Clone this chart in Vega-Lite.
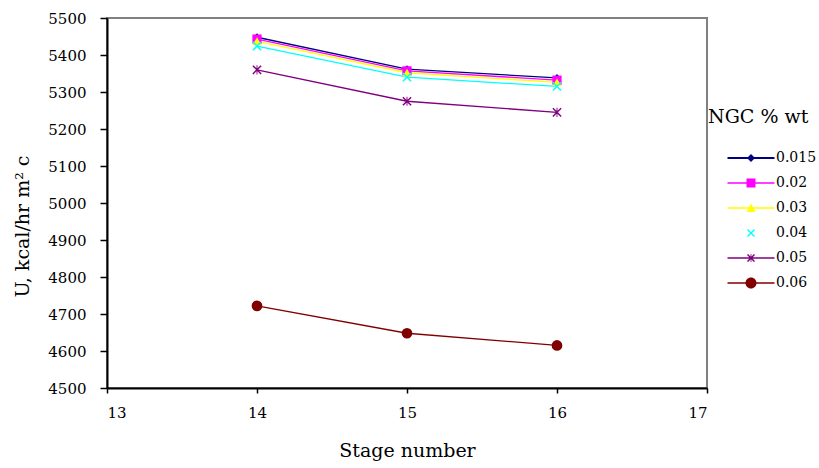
{
  "$schema": "https://vega.github.io/schema/vega-lite/v6.json",
  "width": 600,
  "height": 370,
  "autosize": {"type": "none"},
  "padding": {"left": 107, "top": 18, "right": 112, "bottom": 80},
  "background": "white",
  "config": {
    "view": {"stroke": "#808080", "strokeWidth": 2},
    "font": "DejaVu Serif",
    "axis": {
      "labelFont": "DejaVu Serif",
      "titleFont": "DejaVu Serif",
      "labelFontSize": 15,
      "titleFontSize": 19,
      "titleFontWeight": "normal",
      "labelColor": "black",
      "titleColor": "black",
      "domainColor": "black",
      "domainWidth": 2,
      "tickColor": "black",
      "tickWidth": 1.5,
      "grid": false
    },
    "legend": {
      "labelFont": "DejaVu Serif",
      "titleFont": "DejaVu Serif"
    }
  },
  "data": {
    "values": [
      {"stage": 14, "U": 5448, "ngc": "0.015"},
      {"stage": 15, "U": 5362, "ngc": "0.015"},
      {"stage": 16, "U": 5338, "ngc": "0.015"},
      {"stage": 14, "U": 5443, "ngc": "0.02"},
      {"stage": 15, "U": 5357, "ngc": "0.02"},
      {"stage": 16, "U": 5332, "ngc": "0.02"},
      {"stage": 14, "U": 5437, "ngc": "0.03"},
      {"stage": 15, "U": 5352, "ngc": "0.03"},
      {"stage": 16, "U": 5326, "ngc": "0.03"},
      {"stage": 14, "U": 5424, "ngc": "0.04"},
      {"stage": 15, "U": 5340, "ngc": "0.04"},
      {"stage": 16, "U": 5315, "ngc": "0.04"},
      {"stage": 14, "U": 5360, "ngc": "0.05"},
      {"stage": 15, "U": 5275, "ngc": "0.05"},
      {"stage": 16, "U": 5245, "ngc": "0.05"},
      {"stage": 14, "U": 4722, "ngc": "0.06"},
      {"stage": 15, "U": 4648, "ngc": "0.06"},
      {"stage": 16, "U": 4615, "ngc": "0.06"}
    ]
  },
  "encoding": {
    "x": {
      "field": "stage", "type": "quantitative",
      "scale": {"domain": [13, 17], "nice": false, "zero": false},
      "axis": {"title": "Stage number", "values": [13, 14, 15, 16, 17], "tickSize": 5, "labelPadding": 12, "titlePadding": 21}
    },
    "y": {
      "field": "U", "type": "quantitative",
      "scale": {"domain": [4500, 5500], "nice": false, "zero": false},
      "axis": {
        "title": "U, kcal/hr m² c",
        "format": "d",
        "values": [4500, 4600, 4700, 4800, 4900, 5000, 5100, 5200, 5300, 5400, 5500],
        "tickSize": 7, "labelPadding": 14,
        "titleX": -85, "titleY": 208, "titleBaseline": "middle", "titleAlign": "center"
      }
    },
    "color": {
      "field": "ngc", "type": "nominal",
      "scale": {
        "domain": ["0.015", "0.02", "0.03", "0.04", "0.05", "0.06"],
        "range": ["#000080", "#FF00FF", "#FFFF00", "#00FFFF", "#800080", "#800000"]
      },
      "legend": {
        "title": "NGC % wt",
        "orient": "none",
        "legendX": 601,
        "legendY": 90,
        "titleFontSize": 19,
        "titleFontWeight": "normal",
        "titleColor": "black",
        "titlePadding": 24,
        "labelFontSize": 14,
        "labelColor": "black",
        "symbolSize": 100,
        "symbolOffset": 36,
        "labelOffset": 18,
        "rowPadding": 11,
        "encode": {
          "symbols": {
            "update": {
              "opacity": {"value": 1},
              "strokeWidth": {"value": 0},
              "stroke": {"value": "transparent"},
              "size": {"value": 100},
              "fill": {"scale": "color", "field": "value"},
              "shape": {"signal": "datum.value == '0.015' ? 'M0,-0.8L0.8,0L0,0.8L-0.8,0Z M-4.7,-0.2L4.7,-0.2L4.7,0.2L-4.7,0.2Z' : datum.value == '0.02' ? 'M-0.9,-0.9L0.9,-0.9L0.9,0.9L-0.9,0.9Z M-4.7,-0.13L4.7,-0.13L4.7,0.13L-4.7,0.13Z' : datum.value == '0.03' ? 'M0,-0.9L0.9,0.8L-0.9,0.8Z M-4.7,-0.13L4.7,-0.13L4.7,0.13L-4.7,0.13Z' : datum.value == '0.04' ? 'M-0.8,-0.6L-0.6,-0.8L0,-0.2L0.6,-0.8L0.8,-0.6L0.2,0L0.8,0.6L0.6,0.8L0,0.2L-0.6,0.8L-0.8,0.6L-0.2,0Z' : datum.value == '0.05' ? 'M-0.8,-0.6L-0.6,-0.8L0,-0.2L0.6,-0.8L0.8,-0.6L0.2,0L0.8,0.6L0.6,0.8L0,0.2L-0.6,0.8L-0.8,0.6L-0.2,0Z M-0.08,-0.8L0.08,-0.8L0.08,0.8L-0.08,0.8Z M-4.7,-0.13L4.7,-0.13L4.7,0.13L-4.7,0.13Z' : 'M-1.1,0A1.1,1.1,0,1,1,1.1,0A1.1,1.1,0,1,1,-1.1,0Z M-4.7,-0.13L4.7,-0.13L4.7,0.13L-4.7,0.13Z'"}
            }
          }
        }
      }
    }
  },
  "layer": [
    {
      "mark": {"type": "line", "strokeWidth": 1.3},
      "encoding": {
        "strokeWidth": {"condition": {"test": "datum.ngc == '0.015'", "value": 2}, "value": 1.3}
      }
    },
    {
      "mark": {"type": "point", "filled": true, "opacity": 1, "strokeWidth": 0},
      "encoding": {
        "shape": {
          "condition": [
            {"test": "datum.ngc == '0.015'", "value": "diamond"},
            {"test": "datum.ngc == '0.02'", "value": "square"},
            {"test": "datum.ngc == '0.03'", "value": "triangle-up"},
            {"test": "datum.ngc == '0.04'", "value": "M-1,-0.78L-0.78,-1L0,-0.22L0.78,-1L1,-0.78L0.22,0L1,0.78L0.78,1L0,0.22L-0.78,1L-1,0.78L-0.22,0Z"},
            {"test": "datum.ngc == '0.05'", "value": "M-1,-0.78L-0.78,-1L0,-0.22L0.78,-1L1,-0.78L0.22,0L1,0.78L0.78,1L0,0.22L-0.78,1L-1,0.78L-0.22,0Z M-0.1,-1L0.1,-1L0.1,1L-0.1,1Z"}
          ],
          "value": "circle"
        },
        "size": {
          "condition": [
            {"test": "datum.ngc == '0.015'", "value": 60},
            {"test": "datum.ngc == '0.06'", "value": 115}
          ],
          "value": 85
        }
      }
    }
  ]
}
